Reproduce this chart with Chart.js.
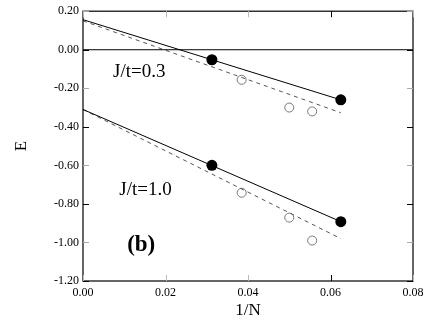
<!DOCTYPE html>
<html>
<head>
<meta charset="utf-8">
<script src="https://cdn.jsdelivr.net/npm/chart.js@4.4.1/dist/chart.umd.min.js"></script>
<style>
  html, body { margin: 0; padding: 0; background: #fff; }
  #wrap { width: 436px; height: 327px; }
</style>
</head>
<body>
<div id="wrap"><canvas id="chart" width="436" height="327"></canvas></div>
<script>
// --- data ---
const xTicks = [0, 0.02, 0.04, 0.06, 0.08];
const yTicks = [0.2, 0, -0.2, -0.4, -0.6, -0.8, -1.0, -1.2];

// system sizes 1/N
const filledX = [1 / 32, 1 / 16];
const openX = [1 / 26, 1 / 20, 1 / 18];

// J/t = 0.3
const filled03 = [-0.052, -0.26];
const open03 = [-0.156, -0.30, -0.32];
// J/t = 1.0
const filled10 = [-0.60, -0.892];
const open10 = [-0.742, -0.871, -0.99];

// extrapolation lines
const fitX = [0, 0.0625];
const solidFit03 = [0.156, -0.26];
const dashFit03 = [0.15, -0.327];
const solidFit10 = [-0.31, -0.892];
const dashFit10 = [-0.31, -0.98];

const zeroX = [0, 0.08];
const zeroY = [0, 0];

const pts = (xs, ys) => xs.map((x, i) => ({ x, y: ys[i] }));
const fmt = v => (Math.abs(v) < 1e-9 ? 0 : v).toFixed(2);

const serif = '"Liberation Serif", "DejaVu Serif", serif';

const lineSet = (data, dashed) => ({
  type: 'line',
  data,
  borderColor: dashed ? '#555' : '#000',
  borderWidth: 1,
  borderDash: dashed ? [4, 4] : [],
  pointRadius: 0,
  showLine: true,
  fill: false
});

// frame, inward ticks and in-plot text
const framePlugin = {
  id: 'frame',
  afterDraw(chart) {
    const { ctx, chartArea: a, scales } = chart;
    ctx.save();
    ctx.strokeStyle = '#000';
    ctx.lineWidth = 1.2;
    ctx.strokeRect(a.left, a.top, a.right - a.left, a.bottom - a.top);

    ctx.lineWidth = 1;
    yTicks.forEach((v, i) => {
      const y = Math.round(scales.y.getPixelForValue(v)) + 0.5;
      ctx.strokeStyle = i % 2 ? '#000' : '#aaa';
      ctx.beginPath();
      ctx.moveTo(a.left, y); ctx.lineTo(a.left + 6, y);
      ctx.moveTo(a.right, y); ctx.lineTo(a.right - 6, y);
      ctx.stroke();
    });
    xTicks.forEach((v, i) => {
      const x = Math.round(scales.x.getPixelForValue(v)) + 0.5;
      ctx.strokeStyle = i === 3 ? '#000' : '#bbb';
      ctx.beginPath();
      ctx.moveTo(x, a.bottom); ctx.lineTo(x, a.bottom - 6);
      ctx.moveTo(x, a.top); ctx.lineTo(x, a.top + 6);
      ctx.stroke();
    });

    ctx.fillStyle = '#000';
    ctx.textBaseline = 'middle';
    ctx.textAlign = 'left';
    ctx.font = '19px ' + serif;
    ctx.fillText('J/t=0.3', scales.x.getPixelForValue(0.0073), scales.y.getPixelForValue(-0.115));
    ctx.fillText('J/t=1.0', scales.x.getPixelForValue(0.0088), scales.y.getPixelForValue(-0.73));
    ctx.font = 'bold 23px ' + serif;
    ctx.fillText('(b)', scales.x.getPixelForValue(0.0107), scales.y.getPixelForValue(-1.015));
    ctx.restore();
  }
};

new Chart(document.getElementById('chart'), {
  type: 'scatter',
  data: {
    datasets: [
      lineSet(pts(zeroX, zeroY), false),
      lineSet(pts(fitX, solidFit03), false),
      lineSet(pts(fitX, dashFit03), true),
      lineSet(pts(fitX, solidFit10), false),
      lineSet(pts(fitX, dashFit10), true),
      {
        data: pts(filledX, filled03).concat(pts(filledX, filled10)),
        pointRadius: 5.5,
        backgroundColor: '#000',
        borderColor: '#000',
        borderWidth: 0
      },
      {
        data: pts(openX, open03).concat(pts(openX, open10)),
        pointRadius: 4.5,
        backgroundColor: 'rgba(0,0,0,0)',
        borderColor: '#777',
        borderWidth: 1
      }
    ]
  },
  options: {
    responsive: false,
    animation: false,
    layout: { padding: { top: 11, right: 23, left: 0, bottom: 2 } },
    plugins: { legend: { display: false }, tooltip: { enabled: false } },
    scales: {
      x: {
        type: 'linear',
        min: 0, max: 0.08,
        afterBuildTicks: s => { s.ticks = xTicks.map(v => ({ value: v })); },
        afterFit: s => { s.height = 44; },
        grid: { display: false, drawTicks: false },
        border: { display: false },
        ticks: { callback: fmt, color: '#000', padding: 5, maxRotation: 0, font: { family: serif, size: 12 } },
        title: { display: true, text: '1/N', color: '#000', padding: { top: 0, bottom: 4 }, font: { family: serif, size: 17 } }
      },
      y: {
        type: 'linear',
        min: -1.2, max: 0.2,
        afterBuildTicks: s => { s.ticks = yTicks.map(v => ({ value: v })); },
        afterFit: s => { s.width = 83; },
        grid: { display: false, drawTicks: false },
        border: { display: false },
        ticks: { callback: fmt, color: '#000', padding: 4, font: { family: serif, size: 12 } },
        title: { display: true, text: 'E', color: '#000', padding: { top: 11, bottom: 0 }, font: { family: serif, size: 17 } }
      }
    }
  },
  plugins: [framePlugin]
});
</script>
</body>
</html>
